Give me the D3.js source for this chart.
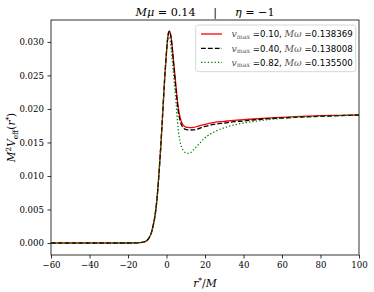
<!DOCTYPE html>
<html><head><meta charset="utf-8">
<script src="https://cdn.jsdelivr.net/npm/d3@7"></script>
<style>body{margin:0;background:#fff}svg{display:block}text{white-space:pre}</style>
</head><body>
<div id="chart"></div>
<script>
const xs = [-60,-40,-20,-16,-14,-12,-10,-9,-8,-7,-6,-5,-4,-3,-2,-1,0,0.5,1,1.5,2,2.5,3,3.5,4,5,6,7,8,9,10,11,12,14,16,20,25,30,35,40,50,60,70,80,90,100];
const redV = [0,0,0,0.00001,0.00005,0.00015,0.0004,0.0008,0.0014,0.0025,0.0040,0.0064,0.0100,0.0143,0.0192,0.0243,0.0285,0.0302,0.0313,0.0316,0.0313,0.0305,0.0292,0.0277,0.0262,0.0232,0.0205,0.0188,0.0179,0.0175,0.0173,0.01724,0.01722,0.01725,0.0174,0.0177,0.0180,0.01815,0.0183,0.0184,0.0186,0.01875,0.0189,0.0190,0.01905,0.0191];
const blackV = [0,0,0,0.00001,0.00005,0.00015,0.0004,0.0008,0.0014,0.0025,0.0040,0.0064,0.0100,0.0143,0.0192,0.0243,0.0285,0.0302,0.0313,0.0316,0.0312,0.0303,0.0289,0.0273,0.0257,0.0226,0.0199,0.0183,0.0175,0.0171,0.01695,0.01688,0.01686,0.01688,0.0170,0.0174,0.0177,0.0179,0.0181,0.0182,0.0185,0.01865,0.0188,0.0189,0.0190,0.0191];
const greenV = [0,0,0,0.00001,0.00005,0.00015,0.0004,0.0008,0.0014,0.0025,0.0040,0.0064,0.0100,0.0143,0.0192,0.0243,0.0284,0.0300,0.0309,0.0309,0.0300,0.0287,0.0272,0.0257,0.0240,0.0208,0.0172,0.0152,0.0142,0.0137,0.01345,0.01338,0.0134,0.0139,0.0145,0.0157,0.0166,0.0172,0.0176,0.0179,0.0183,0.0186,0.0188,0.0189,0.0190,0.0191];
const vmaxLabels = ["0.10","0.40","0.82"];
const omegaLabels = ["0.138369","0.138008","0.135500"];
const xTicks = [-60,-40,-20,0,20,40,60,80,100];
const yTicks = [0,0.005,0.010,0.015,0.020,0.025,0.030];

const W=374,H=292, L=51, R=359, T=20, B=255;
const serif = "'DejaVu Serif', serif";
const sans = "'DejaVu Sans', sans-serif";
const svg = d3.select("#chart").append("svg").attr("width",W).attr("height",H);
const x = d3.scaleLinear().domain([-60,100]).range([L,R]);
const y = d3.scaleLinear().domain([-0.00179,0.03327]).range([B,T]);

svg.append("defs").append("clipPath").attr("id","clip").append("rect")
  .attr("x",L).attr("y",T).attr("width",R-L).attr("height",B-T);

const series = [
  {v: redV, color:"#ff0000", dash:null, w:1.3},
  {v: blackV, color:"#000000", dash:"4.8,2.1", w:1.3},
  {v: greenV, color:"#008000", dash:"1.3,2.1", w:1.3}
];
const line = d3.line().x(d=>x(d[0])).y(d=>y(d[1])).curve(d3.curveMonotoneX);
const g = svg.append("g").attr("clip-path","url(#clip)");
series.forEach(s=>{
  g.append("path").datum(xs.map((xv,i)=>[xv,s.v[i]]))
   .attr("d",line).attr("fill","none").attr("stroke",s.color)
   .attr("stroke-width",s.w).attr("stroke-dasharray",s.dash);
});

// axes
const xAxis = d3.axisBottom(x).tickValues(xTicks).tickSize(3.5).tickPadding(3.5)
  .tickFormat(d=> d<0 ? "\u2212"+Math.abs(d) : String(d));
const yAxis = d3.axisLeft(y).tickValues(yTicks).tickSize(3.5).tickPadding(3.5)
  .tickFormat(d3.format(".3f"));
const gx = svg.append("g").attr("transform",`translate(0,${B})`).call(xAxis);
const gy = svg.append("g").attr("transform",`translate(${L},0)`).call(yAxis);
[gx,gy].forEach(a=>{
  a.select(".domain").remove();
  a.selectAll("line").attr("stroke","#000").attr("stroke-width",0.8);
  a.selectAll("text").attr("font-family",serif).attr("font-size",8.6).attr("fill","#000");
});
svg.append("rect").attr("x",L).attr("y",T).attr("width",R-L).attr("height",B-T)
  .attr("fill","none").attr("stroke","#000").attr("stroke-width",0.8);

// title
const title = svg.append("text").attr("x",(L+R)/2).attr("y",16).attr("text-anchor","middle")
  .attr("font-family",serif).attr("font-size",11.2).attr("xml:space","preserve");
title.append("tspan").attr("font-style","italic").text("Mμ");
title.append("tspan").text(" = 0.14     |     ");
title.append("tspan").attr("font-style","italic").text("η");
title.append("tspan").text(" = \u22121");

// x label
const xl = svg.append("text").attr("x",(L+R)/2).attr("y",287).attr("text-anchor","middle")
  .attr("font-family",serif).attr("font-size",10.8);
xl.append("tspan").attr("font-style","italic").text("r");
xl.append("tspan").attr("font-size",7.5).attr("dy",-4.5).text("*");
xl.append("tspan").attr("dy",4.5).text("/");
xl.append("tspan").attr("font-style","italic").text("M");

// y label
const yl = svg.append("text").attr("transform",`translate(15,${(T+B)/2}) rotate(-90)`)
  .attr("text-anchor","middle").attr("font-family",serif).attr("font-size",10.5);
yl.append("tspan").attr("font-style","italic").text("M");
yl.append("tspan").attr("font-size",7.3).attr("dy",-4.5).text("2");
yl.append("tspan").attr("dy",4.5).attr("font-style","italic").text("V");
yl.append("tspan").attr("font-size",7.3).attr("dy",2.5).text("eff");
yl.append("tspan").attr("dy",-2.5).text("(");
yl.append("tspan").attr("font-style","italic").text("r");
yl.append("tspan").attr("font-size",7.3).attr("dy",-4.5).text("*");
yl.append("tspan").attr("dy",4.5).text(")");

// legend
svg.append("rect").attr("x",195.7).attr("y",25).attr("width",160).attr("height",46.7)
  .attr("rx",2.5).attr("fill","#fff").attr("fill-opacity",0.8)
  .attr("stroke","#cccccc").attr("stroke-width",0.8);
const rowY = [34,48.3,62.3];
series.forEach((s,i)=>{
  svg.append("line").attr("x1",201).attr("x2",222).attr("y1",rowY[i]).attr("y2",rowY[i])
    .attr("stroke",s.color).attr("stroke-width",s.w).attr("stroke-dasharray",s.dash);
  const t = svg.append("text").attr("x",231.5).attr("y",rowY[i]+3.3).attr("font-size",8.6)
    .attr("font-family",sans).attr("fill","#000").attr("xml:space","preserve");
  t.append("tspan").attr("font-family",serif).attr("font-style","italic").attr("font-size",9.3).attr("fill","#555").text("v");
  t.append("tspan").attr("font-family",serif).attr("font-size",6.3).attr("fill","#555").attr("dy",1.8).text("max");
  t.append("tspan").attr("dy",-1.8).text(" =" + vmaxLabels[i] + ", ");
  t.append("tspan").attr("font-family",serif).attr("font-style","italic").attr("font-size",9.3).attr("fill","#555").text("Mω");
  t.append("tspan").text(" =" + omegaLabels[i]);
});
</script>
</body></html>
